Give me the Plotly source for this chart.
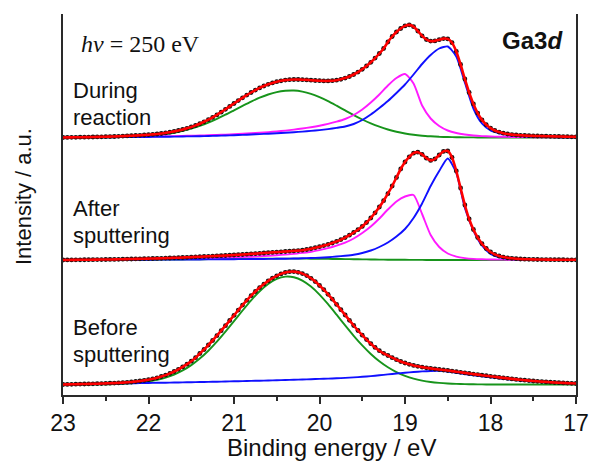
import numpy as np
import plotly.graph_objects as go

# ---------------- data (heights above each spectrum's baseline, arbitrary units) ----------------
BE_DATA = np.round(np.linspace(23.0, 17.0, 121), 2)   # measured points, 0.05 eV step
BE_FIT = np.round(np.linspace(23.0, 17.0, 61), 2)     # fitted components, 0.1 eV step

OFFSET_BEFORE = 10.5
OFFSET_AFTER = 135.0
OFFSET_DURING = 257.5

before_data = [
    0.0, 0.1, 0.2, 0.3, 0.4, 0.5, 0.6, 0.7, 0.8, 0.95,
    1.1, 1.3, 1.4, 1.6, 1.9, 2.2, 2.5, 3.0, 3.5, 4.1,
    4.8, 5.7, 6.7, 8.0, 9.4, 11.1, 13.0, 15.2, 17.6, 20.3,
    23.3, 26.8, 31.0, 35.0, 39.5, 44.0, 48.8, 53.8, 58.8, 64.0,
    69.2, 74.4, 79.4, 84.2, 88.8, 93.0, 96.9, 100.4, 103.6, 106.4,
    108.7, 110.6, 112.0, 112.8, 112.9, 112.2, 110.9, 108.9, 106.2, 102.9,
    99.0, 94.8, 90.2, 85.3, 80.1, 74.8, 69.5, 64.2, 59.0, 54.0,
    49.3, 44.9, 40.8, 37.1, 33.8, 31.2, 29.0, 26.8, 24.8, 23.0,
    21.5, 20.2, 19.1, 18.2, 17.4, 16.7, 16.1, 15.5, 15.0, 14.5,
    14.0, 13.4, 12.8, 12.2, 11.6, 11.0, 10.4, 9.9, 9.3, 8.8,
    8.2, 7.7, 7.1, 6.6, 6.1, 5.6, 5.1, 4.7, 4.3, 3.9,
    3.5, 3.2, 2.9, 2.6, 2.3, 2.0, 1.8, 1.6, 1.4, 1.2,
    1.0,
]
before_green = [
    0.01, 0.02, 0.04, 0.07, 0.14, 0.24, 0.42, 0.72, 1.2, 1.9,
    3.0, 4.6, 6.9, 10.0, 14.1, 19.4, 26.0, 33.8, 42.8, 52.8,
    63.4, 74.0, 84.2, 93.3, 100.6, 105.6, 107.9, 107.3, 103.9, 97.9,
    89.9, 80.3, 69.8, 59.1, 48.7, 39.1, 30.5, 23.2, 17.2, 12.4,
    8.7, 5.9, 3.9, 2.5, 1.6, 1.0, 0.6, 0.35, 0.2, 0.1,
    0.05, 0.03, 0.02, 0.01, 0.0, 0.0, 0.0, 0.0, 0.0, 0.0,
    0.0,
]
before_blue = [
    0.0, 0.2, 0.3, 0.5, 0.6, 0.8, 0.9, 1.1, 1.2, 1.4,
    1.5, 1.7, 1.8, 2.0, 2.1, 2.3, 2.5, 2.6, 2.8, 3.0,
    3.2, 3.4, 3.6, 3.8, 4.0, 4.3, 4.5, 4.8, 5.0, 5.3,
    5.6, 5.9, 6.2, 6.6, 7.1, 7.7, 8.4, 9.2, 10.1, 11.0,
    11.8, 12.5, 13.1, 13.5, 13.6, 13.0, 11.8, 10.4, 9.3, 8.3,
    7.2, 6.2, 5.3, 4.4, 3.6, 3.0, 2.5, 2.0, 1.6, 1.3,
    1.0,
]

after_data = [
    0.0, 0.05, 0.1, 0.15, 0.2, 0.25, 0.3, 0.35, 0.4, 0.45,
    0.5, 0.55, 0.6, 0.7, 0.8, 0.9, 1.0, 1.1, 1.2, 1.3,
    1.4, 1.5, 1.6, 1.7, 1.9, 2.0, 2.2, 2.3, 2.5, 2.7,
    2.9, 3.1, 3.3, 3.5, 3.7, 3.9, 4.1, 4.3, 4.5, 4.8,
    5.0, 5.3, 5.5, 5.8, 6.1, 6.4, 6.7, 7.0, 7.3, 7.6,
    7.9, 8.2, 8.5, 8.8, 9.1, 9.4, 9.8, 10.5, 11.3, 12.3,
    13.3, 14.4, 15.6, 17.0, 18.6, 20.4, 22.4, 24.8, 27.5, 30.3,
    33.6, 37.5, 42.0, 47.2, 53.0, 59.3, 66.3, 74.0, 82.5, 91.0,
    98.0, 103.2, 106.8, 107.8, 105.6, 101.8, 99.6, 101.0, 105.0, 108.6,
    109.0, 102.5, 89.0, 72.0, 55.0, 41.0, 30.5, 22.5, 16.3, 11.5,
    8.0, 5.6, 4.0, 2.9, 2.2, 1.7, 1.3, 1.0, 0.8, 0.7,
    0.6, 0.5, 0.45, 0.4, 0.35, 0.3, 0.3, 0.25, 0.2, 0.2,
    0.2,
]
after_green = [
    0.0, 0.0, 0.0, 0.0, 0.0, 0.0, 0.05, 0.1, 0.1, 0.15,
    0.2, 0.3, 0.35, 0.45, 0.55, 0.65, 0.75, 0.85, 0.95, 1.05,
    1.15, 1.2, 1.3, 1.35, 1.4, 1.4, 1.4, 1.4, 1.35, 1.3,
    1.2, 1.1, 1.0, 0.9, 0.75, 0.65, 0.5, 0.4, 0.3, 0.25,
    0.2, 0.15, 0.1, 0.05, 0.05, 0.0, 0.0, 0.0, 0.0, 0.0,
    0.0, 0.0, 0.0, 0.0, 0.0, 0.0, 0.0, 0.0, 0.0, 0.0,
    0.0,
]
after_magenta = [
    0.2, 0.25, 0.3, 0.35, 0.4, 0.45, 0.5, 0.55, 0.6, 0.7,
    0.8, 0.9, 1.0, 1.1, 1.3, 1.4, 1.6, 1.8, 2.0, 2.3,
    2.6, 2.9, 3.3, 3.7, 4.2, 4.8, 5.4, 6.1, 7.1, 8.2,
    9.9, 11.8, 14.3, 17.3, 21.5, 27.0, 33.5, 41.5, 50.5, 58.5,
    63.5, 65.0, 46.0, 25.0, 13.0, 6.5, 3.4, 1.9, 1.1, 0.7,
    0.5, 0.4, 0.3, 0.25, 0.2, 0.15, 0.1, 0.1, 0.1, 0.05,
    0.05,
]
after_blue = [
    0.0, 0.02, 0.05, 0.07, 0.1, 0.12, 0.15, 0.18, 0.2, 0.25,
    0.3, 0.33, 0.36, 0.4, 0.45, 0.5, 0.55, 0.6, 0.65, 0.72,
    0.8, 0.87, 0.95, 1.0, 1.1, 1.2, 1.3, 1.45, 1.7, 2.0,
    2.3, 2.8, 3.5, 4.3, 5.3, 7.0, 9.5, 13.0, 17.5, 23.5,
    31.0, 42.0, 56.5, 74.0, 89.0, 101.5, 87.0, 52.0, 29.5, 14.5,
    6.0, 2.6, 1.3, 0.7, 0.4, 0.25, 0.15, 0.1, 0.05, 0.0,
    0.0,
]

during_data = [
    0.0, 0.1, 0.15, 0.2, 0.3, 0.35, 0.4, 0.5, 0.6, 0.7,
    0.8, 0.9, 1.0, 1.2, 1.4, 1.6, 1.8, 2.0, 2.2, 2.5,
    2.8, 3.1, 3.5, 4.0, 4.6, 5.3, 6.1, 7.0, 8.0, 9.2,
    10.6, 12.1, 13.8, 15.7, 17.8, 20.1, 22.6, 25.3, 28.2, 31.1,
    34.0, 36.9, 39.7, 42.4, 45.0, 47.4, 49.6, 51.5, 53.2, 54.6,
    55.8, 56.7, 57.4, 57.8, 58.0, 58.0, 57.8, 57.6, 57.3, 57.0,
    56.8, 56.6, 56.6, 56.8, 57.3, 58.2, 59.4, 61.0, 63.0, 65.4,
    68.2, 71.5, 75.2, 79.4, 84.0, 89.0, 95.5, 101.0, 105.5, 109.0,
    111.6, 112.6, 110.8, 106.5, 101.6, 98.0, 96.4, 96.6, 97.8, 98.9,
    98.6, 94.8, 86.0, 73.0, 58.5, 45.0, 33.5, 24.4, 17.6, 12.8,
    9.4, 7.0, 5.4, 4.3, 3.5, 2.9, 2.5, 2.2, 2.0, 1.8,
    1.6, 1.5, 1.4, 1.3, 1.2, 1.1, 1.0, 0.9, 0.8, 0.7,
    0.6,
]
during_green = [
    0.01, 0.01, 0.03, 0.05, 0.09, 0.15, 0.25, 0.41, 0.66, 1.0,
    1.6, 2.3, 3.4, 4.7, 6.6, 8.8, 11.6, 14.9, 18.7, 22.8,
    27.2, 31.6, 35.9, 39.8, 43.0, 45.4, 46.7, 47.0, 45.9, 43.7,
    40.4, 36.4, 31.8, 27.1, 22.4, 18.0, 14.1, 10.8, 8.0, 5.7,
    4.0, 2.7, 1.8, 1.2, 0.7, 0.45, 0.27, 0.15, 0.08, 0.04,
    0.02, 0.01, 0.0, 0.0, 0.0, 0.0, 0.0, 0.0, 0.0, 0.0,
    0.0,
]
during_magenta = [
    0.3, 0.35, 0.4, 0.45, 0.5, 0.55, 0.6, 0.7, 0.8, 0.9,
    1.0, 1.1, 1.3, 1.4, 1.6, 1.8, 2.0, 2.3, 2.6, 2.9,
    3.3, 3.7, 4.2, 4.8, 5.4, 6.1, 6.9, 7.9, 9.0, 10.3,
    11.8, 13.6, 15.8, 18.5, 22.5, 28.0, 35.0, 43.0, 52.0, 59.5,
    63.5, 54.0, 32.0, 19.0, 11.5, 7.0, 4.5, 3.0, 2.0, 1.4,
    1.0, 0.8, 0.6, 0.5, 0.4, 0.3, 0.3, 0.25, 0.2, 0.2,
    0.2,
]
during_blue = [
    0.0, 0.05, 0.1, 0.15, 0.2, 0.25, 0.3, 0.35, 0.4, 0.5,
    0.55, 0.65, 0.75, 0.85, 1.0, 1.15, 1.3, 1.5, 1.7, 2.0,
    2.3, 2.6, 3.0, 3.4, 3.8, 4.3, 4.8, 5.3, 5.9, 6.6,
    7.4, 8.4, 9.6, 11.0, 13.5, 17.5, 23.0, 29.5, 36.5, 44.5,
    53.0, 63.0, 73.5, 82.5, 89.0, 91.0, 81.0, 55.0, 29.0, 14.0,
    7.0, 4.2, 2.6, 1.7, 1.1, 0.8, 0.5, 0.4, 0.3, 0.2,
    0.2,
]

X_TICKS = [23, 22, 21, 20, 19, 18, 17]

# ---------------- styling ----------------
GREEN = "#17941b"
MAGENTA = "#ff1aff"
BLUE = "#1010ff"
RED = "#ff0000"
DOT = "#111111"
AXC = "#2a2a2a"
SANS = "Liberation Sans, Arial, sans-serif"
SERIF = "Liberation Serif, Times New Roman, serif"

fig = go.Figure()


def add_spectrum(offset, data, comps):
    for vals, col in comps:
        fig.add_trace(go.Scatter(
            x=BE_FIT, y=np.array(vals) + offset, mode="lines",
            line=dict(color=col, width=1.9, shape="spline", smoothing=0.6),
            hoverinfo="skip", showlegend=False))
    fig.add_trace(go.Scatter(
        x=BE_DATA, y=np.array(data) + offset, mode="markers",
        marker=dict(color=DOT, size=4.8, line=dict(width=0)),
        hoverinfo="skip", showlegend=False))
    fig.add_trace(go.Scatter(
        x=BE_DATA, y=np.array(data) + offset, mode="lines",
        line=dict(color=RED, width=2.6, shape="spline", smoothing=0.6),
        hoverinfo="skip", showlegend=False))


add_spectrum(OFFSET_BEFORE, before_data, [(before_green, GREEN), (before_blue, BLUE)])
add_spectrum(OFFSET_AFTER, after_data, [(after_green, GREEN), (after_magenta, MAGENTA), (after_blue, BLUE)])
add_spectrum(OFFSET_DURING, during_data, [(during_green, GREEN), (during_magenta, MAGENTA), (during_blue, BLUE)])

L, R, T, B = 63, 14, 14, 68
W, H = 590, 463
PW = W - L - R
PH = H - T - B


def px_x(px):
    return (px - L) / PW


def px_y(py):
    return ((H - B) - py) / PH


fig.update_layout(
    width=W, height=H, autosize=False,
    margin=dict(l=L, r=R, t=T, b=B, pad=0, autoexpand=False),
    paper_bgcolor="white", plot_bgcolor="white",
    showlegend=False,
    xaxis=dict(
        range=[23, 17], tickvals=X_TICKS, ticktext=[str(v) for v in X_TICKS],
        ticks="outside", ticklen=7, tickwidth=1.5, tickcolor=AXC,
        minor=dict(dtick=0.5, tick0=17, ticks="outside", ticklen=4, tickwidth=1.5, tickcolor=AXC, showgrid=False),
        showline=True, linecolor=AXC, linewidth=1.6, automargin=False,
        showgrid=False, zeroline=False,
        tickfont=dict(family=SANS, size=23, color="#111"),
    ),
    xaxis2=dict(
        range=[23, 17], overlaying="x", side="top", tickvals=X_TICKS,
        ticks="inside", ticklen=8, tickwidth=1.5, tickcolor=AXC,
        minor=dict(dtick=0.5, tick0=17, ticks="inside", ticklen=4, tickwidth=1.5, tickcolor=AXC, showgrid=False),
        showticklabels=False, showline=True, linecolor=AXC, linewidth=1.6, automargin=False,
        showgrid=False, zeroline=False,
    ),
    yaxis=dict(
        range=[0, PH], showline=True, mirror=True, linecolor=AXC, linewidth=1.6,
        ticks="", showticklabels=False, showgrid=False, zeroline=False, automargin=False,
    ),
)

ann = []


def label(text, xpx, ypx, size=22, family=SANS, xanchor="left", angle=0):
    ann.append(dict(text=text, x=px_x(xpx), y=px_y(ypx), xref="paper", yref="paper",
                    xanchor=xanchor, yanchor="middle", showarrow=False, textangle=angle,
                    font=dict(family=family, size=size, color="#111")))


label("<i>hv</i> = 250 eV", 79, 44, size=24, family=SERIF)
label("<b>Ga3<i>d</i></b>", 565, 41, size=24, xanchor="right")
label("During", 71, 90)
label("reaction", 71, 117)
label("After", 71, 208)
label("sputtering", 71, 235)
label("Before", 71, 327)
label("sputtering", 71, 354)
label("Intensity / a.u.", 23, 197, xanchor="center", angle=-90)
label("Binding energy / eV", 331, 447, size=24, xanchor="center")

fig.update_layout(annotations=ann)
fig.write_html("out.html")
